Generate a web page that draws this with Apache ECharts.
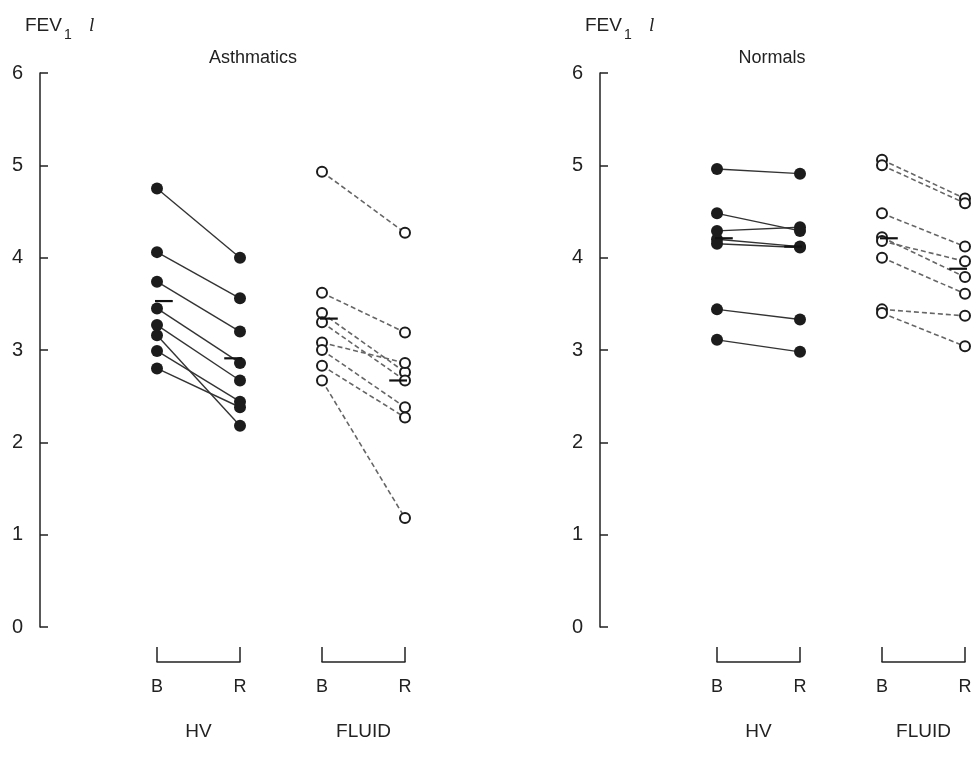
<!DOCTYPE html>
<html>
<head>
<meta charset="utf-8">
<script src="https://cdn.jsdelivr.net/npm/echarts@6/dist/echarts.min.js"></script>
<style>
  html, body { margin: 0; background: #fff; }
  #chart { width: 976px; height: 758px; }
</style>
</head>
<body>
<div id="chart"></div>
<script>
// FEV1 (litres) before (B) and after (R) challenge
const panels = ['Asthmatics', 'Normals']
const groups = ['HV', 'FLUID']
const phases = ['B', 'R']

const asthmaHvB = [4.75, 4.06, 3.74, 3.45, 3.27, 3.16, 2.99, 2.80]
const asthmaHvR = [4.00, 3.56, 3.20, 2.86, 2.67, 2.18, 2.44, 2.38]
const asthmaFluidB = [4.93, 3.62, 3.40, 3.30, 3.08, 3.00, 2.83, 2.67]
const asthmaFluidR = [4.27, 3.19, 2.76, 2.67, 2.86, 2.38, 2.27, 1.18]
const normalHvB = [4.96, 4.48, 4.29, 4.20, 4.15, 3.44, 3.11]
const normalHvR = [4.91, 4.29, 4.33, 4.12, 4.11, 3.33, 2.98]
const normalFluidB = [5.06, 5.00, 4.48, 4.22, 4.18, 4.00, 3.44, 3.40]
const normalFluidR = [4.64, 4.59, 4.12, 3.79, 3.96, 3.61, 3.37, 3.04]

// group means [B, R], drawn as short horizontal bars
const asthmaHvMean = [3.53, 2.91]
const asthmaFluidMean = [3.34, 2.67]
const normalHvMean = [4.21, 4.12]
const normalFluidMean = [4.21, 3.88]

const yMin = 0
const yMax = 6
const yStep = 1

const FONT = '"Liberation Sans", Arial, sans-serif'
const INK = '#222'

const panelLeft = [40, 600]
const groupLeft = [117, 282]
const groupWidth = 83
const plotTop = 73
const plotHeight = 554
const bracketDrop = 35 // bracket sits this far below the zero line

const groupData = [
  [[asthmaHvB, asthmaHvR, asthmaHvMean], [asthmaFluidB, asthmaFluidR, asthmaFluidMean]],
  [[normalHvB, normalHvR, normalHvMean], [normalFluidB, normalFluidR, normalFluidMean]]
]

// the group grids reach down to the bracket, so stretch their hidden y range to keep zero aligned
const groupYMin = yMin - bracketDrop * (yMax - yMin) / plotHeight

const grid = []
const xAxis = []
const yAxis = []
const series = []
const graphic = []

panels.forEach((panel, p) => {
  // grid that only carries the FEV1 axis
  const axisIdx = grid.length
  grid.push({ left: panelLeft[p], top: plotTop, height: plotHeight, width: 20 })
  xAxis.push({ gridIndex: axisIdx, type: 'value', min: 0, max: 1, show: false })
  yAxis.push({
    gridIndex: axisIdx,
    type: 'value',
    min: yMin,
    max: yMax,
    interval: yStep,
    axisLine: { show: true, lineStyle: { color: INK, width: 1.5 } },
    axisTick: { show: true, inside: true, length: 8, lineStyle: { color: INK, width: 1.5 } },
    axisLabel: { fontSize: 20, color: INK, margin: 17, fontFamily: FONT },
    splitLine: { show: false }
  })

  groups.forEach((group, g) => {
    const idx = grid.length
    const [bVals, rVals, mean] = groupData[p][g]
    const fluid = group === 'FLUID'
    grid.push({
      left: panelLeft[p] + groupLeft[g],
      top: plotTop,
      height: plotHeight + bracketDrop,
      width: groupWidth
    })
    xAxis.push({
      gridIndex: idx,
      type: 'value',
      min: 0,
      max: 1,
      interval: 1,
      axisLine: { show: true, onZero: false, lineStyle: { color: INK, width: 1.5 } },
      axisTick: { show: true, inside: true, length: 15, lineStyle: { color: INK, width: 1.5 } },
      axisLabel: {
        fontSize: 18, color: INK, margin: 16, fontFamily: FONT,
        formatter: v => phases[v]
      },
      splitLine: { show: false },
      name: group,
      nameLocation: 'middle',
      nameGap: 60,
      nameTextStyle: { fontSize: 19, color: INK, fontFamily: FONT }
    })
    yAxis.push({ gridIndex: idx, type: 'value', min: groupYMin, max: yMax, show: false })

    bVals.forEach((b, i) => {
      series.push({
        type: 'line',
        xAxisIndex: idx,
        yAxisIndex: idx,
        data: [[0, b], [1, rVals[i]]],
        symbol: fluid ? 'emptyCircle' : 'circle',
        symbolSize: fluid ? 10 : 12,
        itemStyle: fluid
          ? { color: '#1c1c1c', borderWidth: 1.5 }
          : { color: '#1c1c1c' },
        lineStyle: fluid
          ? { color: '#666', width: 1.6, type: [5, 3] }
          : { color: '#333', width: 1.4 },
        animation: false,
        silent: true
      })
    })

    mean.forEach((m, k) => {
      series.push({
        type: 'line',
        xAxisIndex: idx,
        yAxisIndex: idx,
        data: [[k - 0.19, m], [k + 0.19, m]],
        symbol: 'none',
        clip: false,
        z: 5,
        lineStyle: { color: '#111', width: 2.2 },
        animation: false,
        silent: true
      })
    })
  })

  const x0 = panelLeft[p]
  graphic.push(
    { type: 'text', x: x0 + (p ? 172 : 213), y: 58, style: { text: panel, font: '18px ' + FONT, fill: INK, align: 'center', verticalAlign: 'middle' } },
    { type: 'text', x: x0 - 15, y: 26, style: { text: 'FEV', font: '19px ' + FONT, fill: INK, align: 'left', verticalAlign: 'middle' } },
    { type: 'text', x: x0 + 24, y: 35, style: { text: '1', font: '14px ' + FONT, fill: INK, align: 'left', verticalAlign: 'middle' } },
    { type: 'text', x: x0 + 49, y: 26, style: { text: 'l', font: 'italic 19px "Liberation Serif", serif', fill: INK, align: 'left', verticalAlign: 'middle' } }
  )
})

const chart = echarts.init(document.getElementById('chart'))
chart.setOption({
  backgroundColor: '#fff',
  animation: false,
  textStyle: { fontFamily: FONT },
  grid,
  xAxis,
  yAxis,
  series,
  graphic
})
</script>
</body>
</html>
